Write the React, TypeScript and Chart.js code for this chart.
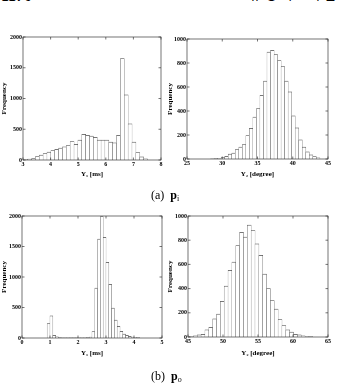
import React, { useEffect, useRef } from 'react';
import { Chart, registerables } from 'chart.js';

Chart.register(...registerables);

const SERIF = '"Liberation Serif", "Times New Roman", serif';

// ---- (a) p_i : Y1 [ms]
const aY1Start = 3.1;
const aY1Bin = 0.14;
const aY1Counts = [10, 15, 25, 55, 80, 105, 130, 155, 175, 195, 215, 235, 300, 255, 325, 418, 400, 390, 370, 325, 325, 325, 290, 280, 400, 1650, 1060, 590, 290, 120, 50, 20];
const aY1Ticks = { min: 3, max: 8, step: 1 };
const aFreq1Ticks = { max: 2000, step: 500 };

// ---- (a) p_i : Y2 [degree]
const aY2Start = 28.6;
const aY2Bin = 0.5;
const aY2Counts = [2, 3, 6, 12, 22, 40, 50, 78, 100, 120, 195, 255, 350, 420, 530, 650, 890, 905, 870, 820, 770, 650, 560, 360, 260, 160, 100, 60, 35, 20, 10];
const aY2Ticks = { min: 25, max: 45, step: 5 };
const aFreq2Ticks = { max: 1000, step: 200 };

// ---- (b) p_o : Y1 [ms]
const bY1Start = 0.95;
const bY1Bin = 0.1;
const bY1Counts = [235, 365, 45, 18, 6, 3, 2, 2, 1, 1, 1, 2, 2, 3, 5, 15, 105, 820, 1620, 1990, 1650, 1240, 880, 490, 295, 190, 110, 65, 45, 28, 16, 10, 5];
const bY1Ticks = { min: 0, max: 5, step: 1 };
const bFreq1Ticks = { max: 2000, step: 500 };

// ---- (b) p_o : Y2 [degree]
const bY2Start = 45.5;
const bY2Bin = 0.55;
const bY2Counts = [5, 10, 17, 22, 60, 80, 150, 190, 295, 420, 550, 620, 755, 865, 825, 925, 880, 770, 675, 520, 400, 300, 230, 145, 95, 60, 40, 22, 17, 10, 5, 3];
const bY2Ticks = { min: 45, max: 65, step: 5 };
const bFreq2Ticks = { max: 1000, step: 200 };

const boxPlugin = {
  id: 'matlabBox',
  afterDatasetsDraw(chart: any) {
    const { ctx, chartArea, scales } = chart;
    const { left, right, top, bottom } = chartArea;
    const len = 2.5;
    ctx.save();
    ctx.strokeStyle = '#3a3a3a';
    ctx.lineWidth = 0.7;
    ctx.strokeRect(left, top, right - left, bottom - top);
    ctx.beginPath();
    scales.x.ticks.forEach((t: any) => {
      const px = scales.x.getPixelForValue(t.value);
      ctx.moveTo(px, bottom);
      ctx.lineTo(px, bottom - len);
      ctx.moveTo(px, top);
      ctx.lineTo(px, top + len);
    });
    scales.y.ticks.forEach((t: any) => {
      const py = scales.y.getPixelForValue(t.value);
      ctx.moveTo(left, py);
      ctx.lineTo(left + len, py);
      ctx.moveTo(right, py);
      ctx.lineTo(right - len, py);
    });
    ctx.stroke();
    ctx.restore();
  },
};

type HistProps = {
  left: number; top: number; width: number; height: number;
  padTop: number; padRight: number; yW: number; xH: number;
  xTicks: { min: number; max: number; step: number };
  yTicks: { max: number; step: number };
  xTitle: string;
  start: number; bin: number; counts: number[];
};

function Hist(p: HistProps) {
  const ref = useRef<HTMLCanvasElement>(null);
  useEffect(() => {
    if (!ref.current) return;
    const data = p.counts.map((c, i) => ({ x: p.start + i * p.bin, y: c }));
    const tickFont = { family: SERIF, size: 6, weight: 'bold' as const };
    const titleFont = { family: SERIF, size: 7, weight: 'bold' as const };
    const chart = new Chart(ref.current, {
      type: 'bar',
      data: {
        datasets: [{
          data: data as any,
          backgroundColor: '#ffffff',
          borderColor: '#4a4a4a',
          borderWidth: { left: 0.4, right: 0.4, top: 0.75, bottom: 0 } as any,
          borderSkipped: false,
          barPercentage: 1,
          categoryPercentage: 1,
        }],
      },
      options: {
        responsive: false,
        animation: false,
        devicePixelRatio: 1,
        layout: { padding: { top: p.padTop, right: p.padRight, left: 0, bottom: 0 } },
        plugins: { legend: { display: false }, tooltip: { enabled: false } },
        scales: {
          x: {
            type: 'linear',
            min: p.xTicks.min,
            max: p.xTicks.max,
            offset: false,
            grid: { display: false, drawTicks: false },
            border: { display: false },
            ticks: {
              stepSize: p.xTicks.step,
              padding: 1,
              color: '#000',
              font: tickFont,
              maxRotation: 0,
              autoSkip: false,
              callback: (v: any) => String(v),
            },
            title: { display: true, text: p.xTitle, padding: 0, color: '#000', font: titleFont },
            afterFit: (s: any) => { s.height = p.xH; },
          },
          y: {
            type: 'linear',
            min: 0,
            max: p.yTicks.max,
            grid: { display: false, drawTicks: false },
            border: { display: false },
            ticks: {
              stepSize: p.yTicks.step,
              padding: 1,
              color: '#000',
              font: tickFont,
              callback: (v: any) => String(v),
            },
            title: { display: true, text: 'Frequency', padding: 0, color: '#000', font: titleFont },
            afterFit: (s: any) => { s.width = p.yW; },
          },
        },
      },
      plugins: [boxPlugin],
    });
    return () => chart.destroy();
  }, []);
  return (
    <canvas
      ref={ref}
      width={p.width}
      height={p.height}
      style={{ position: 'absolute', left: p.left, top: p.top, width: p.width, height: p.height }}
    />
  );
}

function Caption({ left, top, letter, sub }: { left: number; top: number; letter: string; sub: string }) {
  return (
    <div style={{ position: 'absolute', left, top, fontFamily: SERIF, fontSize: 12, lineHeight: '14px', whiteSpace: 'pre', color: '#000' }}>
      {`(${letter})  `}
      <span style={{ fontWeight: 'bold' }}>p</span>
      <span style={{ fontSize: 8, verticalAlign: '-2px' }}>{sub}</span>
    </div>
  );
}

export default function App() {
  return (
    <div style={{ position: 'absolute', left: 0, top: 0, width: 337, height: 383, overflow: 'hidden', background: '#fff' }}>
      <div style={{ position: 'absolute', left: 1, top: -12, fontFamily: SERIF, fontSize: 16, fontWeight: 'bold', lineHeight: '16px', color: '#000' }}>1170</div>
      <div style={{ position: 'absolute', left: 249, top: -13, fontFamily: '"Noto Sans CJK KR", sans-serif', fontSize: 13, lineHeight: '13px', letterSpacing: 4, color: '#000', whiteSpace: 'pre' }}>유경화·최완</div>

      <Hist left={0} top={30} width={168} height={148} padTop={7} padRight={7} yW={23} xH={18}
        xTicks={aY1Ticks} yTicks={aFreq1Ticks} xTitle="Y₁ [ms]" start={aY1Start} bin={aY1Bin} counts={aY1Counts} />
      <Hist left={166} top={30} width={171} height={148} padTop={9} padRight={9} yW={21} xH={19}
        xTicks={aY2Ticks} yTicks={aFreq2Ticks} xTitle="Y₂ [degree]" start={aY2Start} bin={aY2Bin} counts={aY2Counts} />
      <Caption left={151} top={188} letter="a" sub="i" />

      <Hist left={0} top={205} width={168} height={152} padTop={11} padRight={6} yW={22} xH={19}
        xTicks={bY1Ticks} yTicks={bFreq1Ticks} xTitle="Y₁ [ms]" start={bY1Start} bin={bY1Bin} counts={bY1Counts} />
      <Hist left={166} top={205} width={171} height={152} padTop={11} padRight={9} yW={22} xH={20}
        xTicks={bY2Ticks} yTicks={bFreq2Ticks} xTitle="Y₂ [degree]" start={bY2Start} bin={bY2Bin} counts={bY2Counts} />
      <Caption left={151} top={369} letter="b" sub="o" />
    </div>
  );
}
